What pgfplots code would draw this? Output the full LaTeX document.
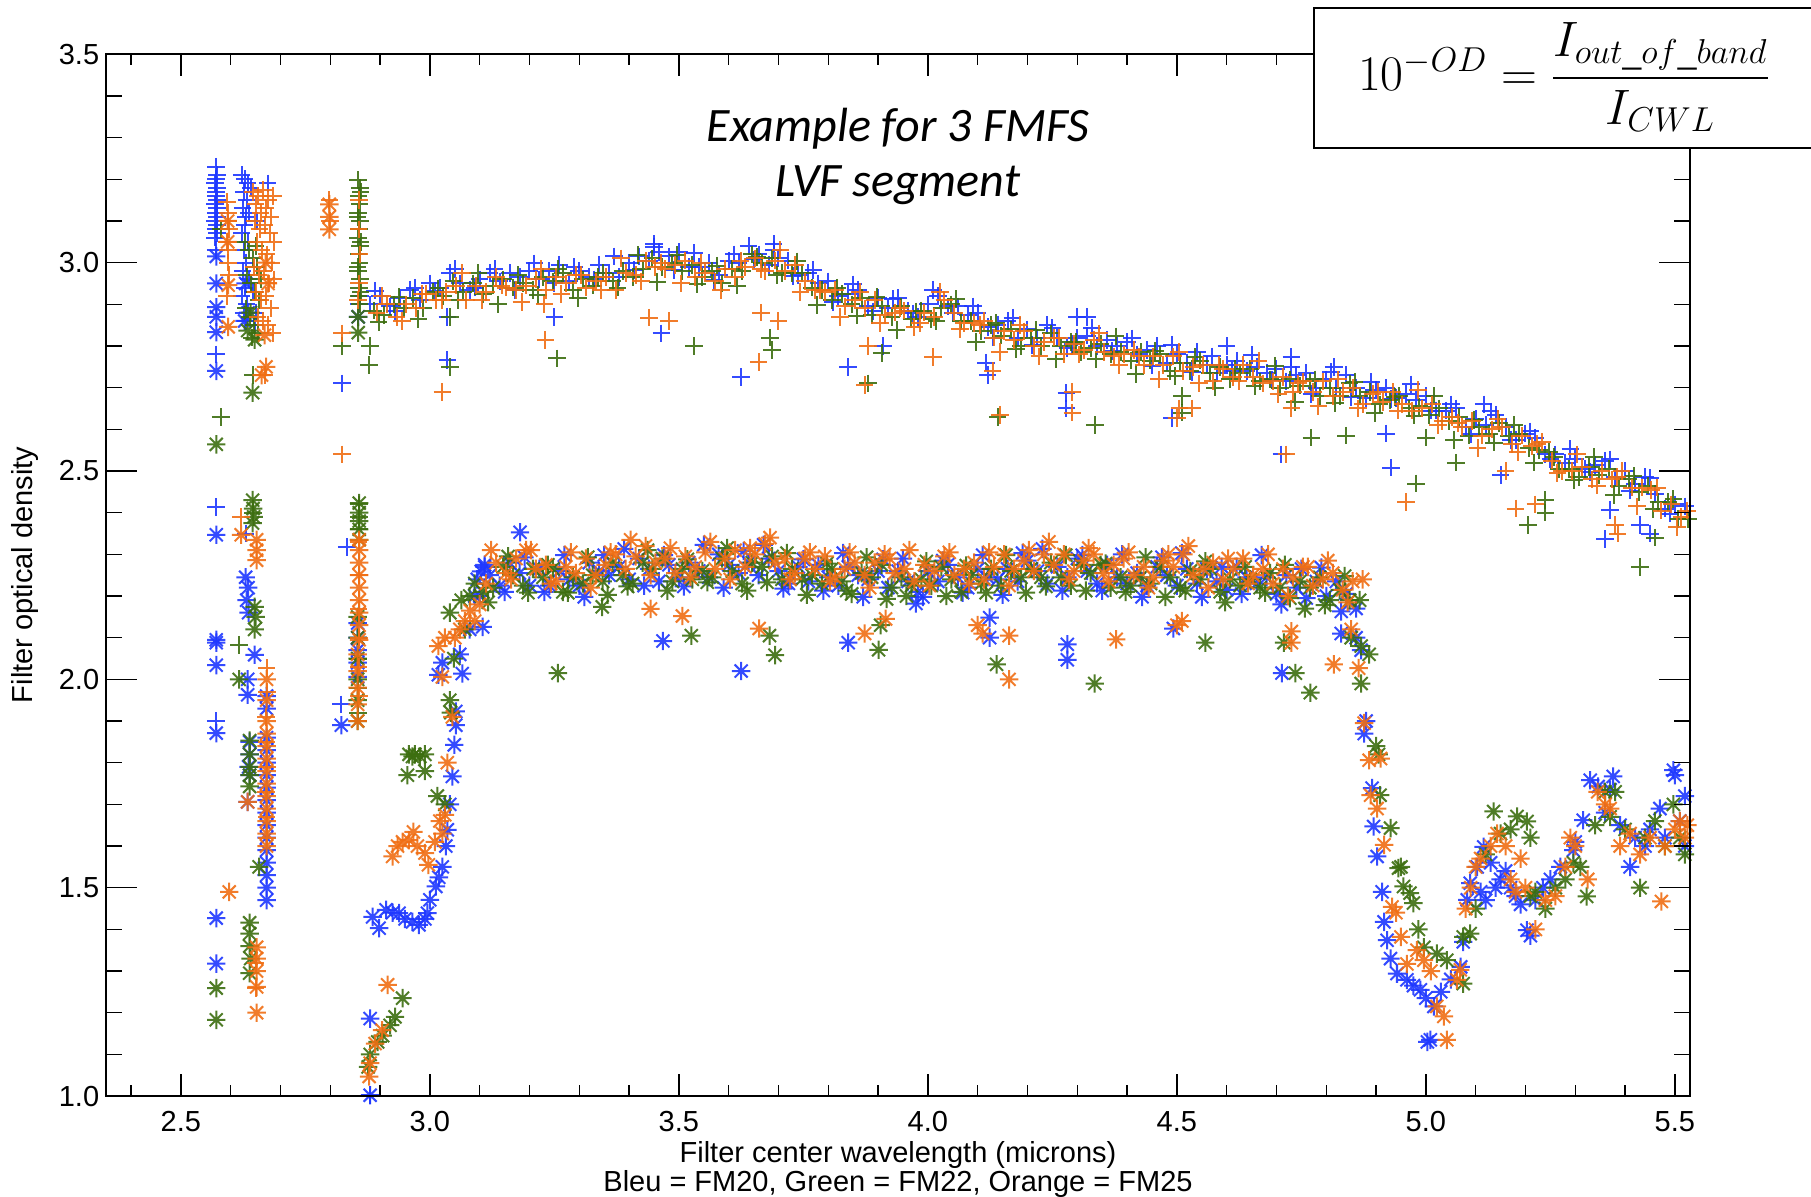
\documentclass[border=0pt]{standalone}
\usepackage{amsmath}
\usepackage{pgfplots}
\pgfplotsset{compat=1.18}
\usepackage{fontspec}
\setmainfont{Liberation Sans}
\newfontfamily\calibri{Carlito}
\definecolor{fmblue}{RGB}{30,55,255}
\definecolor{fmgreen}{RGB}{60,110,15}
\definecolor{fmorange}{RGB}{240,110,20}
\pgfdeclareplotmark{ast8}{%
  \pgfpathmoveto{\pgfqpoint{-\pgfplotmarksize}{0pt}}\pgfpathlineto{\pgfqpoint{\pgfplotmarksize}{0pt}}%
  \pgfpathmoveto{\pgfqpoint{0pt}{-\pgfplotmarksize}}\pgfpathlineto{\pgfqpoint{0pt}{\pgfplotmarksize}}%
  \pgfpathmoveto{\pgfqpoint{-0.7071\pgfplotmarksize}{-0.7071\pgfplotmarksize}}\pgfpathlineto{\pgfqpoint{0.7071\pgfplotmarksize}{0.7071\pgfplotmarksize}}%
  \pgfpathmoveto{\pgfqpoint{-0.7071\pgfplotmarksize}{0.7071\pgfplotmarksize}}\pgfpathlineto{\pgfqpoint{0.7071\pgfplotmarksize}{-0.7071\pgfplotmarksize}}%
  \pgfusepathqstroke}
\pgfplotsset{
  pl/.style={only marks, mark=+, mark size=4.4pt, line width=1pt, opacity=0.9},
  as/.style={only marks, mark=ast8, mark size=4.6pt, line width=1pt, opacity=0.9},
}
\begin{document}
\begin{tikzpicture}[x=1pt,y=1pt]
\begin{axis}[
  at={(53.1pt,50.45pt)}, anchor=south west, scale only axis,
  width=791.8pt, height=520.9pt,
  xmin=2.35, xmax=5.53, ymin=1.0, ymax=3.5,
  xtick={2.5,3.0,3.5,4.0,4.5,5.0,5.5},
  minor xtick={2.4,2.6,2.7,2.8,2.9,3.1,3.2,3.3,3.4,3.6,3.7,3.8,3.9,4.1,4.2,4.3,4.4,4.6,4.7,4.8,4.9,5.1,5.2,5.3,5.4},
  ytick=\empty,
  tick pos=both, tick align=inside,
  major tick length=11pt, minor tick length=5.5pt,
  tick style={black, line width=0.7pt},
  axis line style={line width=0.8pt},
  xticklabel style={font=\fontsize{14.5}{17}\selectfont, yshift=-4pt,
    /pgf/number format/fixed, /pgf/number format/fixed zerofill,
    /pgf/number format/precision=1, /pgf/number format/assume math mode=true},
]
% ---------- FM20 blue, + ----------
\addplot[pl, color=fmblue] coordinates {
(2.88,2.900)(2.90,2.920)(2.92,2.895)(2.94,2.915)(2.96,2.935)(2.98,2.910)(3.00,2.950)(3.02,2.940)(3.04,2.975)(3.06,2.950)(3.08,2.935)(3.10,2.960)(3.12,2.975)(3.14,2.955)(3.16,2.975)(3.18,2.965)(3.20,2.980)(3.22,2.960)(3.24,2.980)(3.26,2.995)(3.28,2.955)(3.30,2.980)(3.32,2.965)(3.34,2.995)(3.36,2.975)(3.38,2.965)(3.40,3.000)(3.42,3.015)(3.44,3.005)(3.46,3.025)(3.48,3.015)(3.50,3.025)(3.52,2.990)(3.54,2.990)(3.56,3.000)(3.58,2.970)(3.60,3.005)(3.62,3.000)(3.64,3.040)(3.66,3.020)(3.68,2.995)(3.70,3.010)(3.72,3.005)(3.74,2.970)(3.76,2.975)(3.78,2.950)(3.80,2.955)(3.82,2.920)(3.84,2.925)(3.86,2.935)(3.88,2.895)(3.90,2.915)(3.92,2.890)(3.94,2.915)(3.96,2.885)(3.98,2.870)(4.00,2.900)(4.02,2.920)(4.04,2.895)(4.06,2.895)(4.08,2.875)(4.10,2.880)(4.12,2.845)(4.14,2.850)(4.16,2.860)(4.18,2.820)(4.20,2.840)(4.22,2.820)(4.24,2.850)(4.26,2.820)(4.28,2.795)(4.30,2.820)(4.32,2.825)(4.34,2.800)(4.36,2.815)(4.38,2.800)(4.40,2.810)(4.42,2.780)(4.44,2.790)(4.46,2.800)(4.48,2.760)(4.50,2.780)(4.52,2.760)(4.54,2.785)(4.56,2.755)(4.58,2.735)(4.60,2.755)(4.62,2.765)(4.64,2.740)(4.66,2.750)(4.68,2.735)(4.70,2.745)(4.72,2.715)(4.74,2.730)(4.76,2.735)(4.78,2.700)(4.80,2.720)(4.82,2.700)(4.84,2.730)(4.86,2.700)(4.88,2.675)(4.90,2.695)(4.92,2.700)(4.94,2.675)(4.96,2.685)(4.98,2.670)(5.00,2.680)(5.02,2.645)(5.04,2.645)(5.06,2.650)(5.08,2.605)(5.10,2.625)(5.12,2.610)(5.14,2.635)(5.16,2.605)(5.18,2.575)(5.20,2.590)(5.22,2.580)(5.24,2.540)(5.26,2.540)(5.28,2.520)(5.30,2.530)(5.32,2.505)(5.34,2.515)(5.36,2.525)(5.38,2.485)(5.40,2.500)(5.42,2.470)(5.44,2.485)(5.46,2.445)(5.48,2.410)(5.50,2.420)(5.52,2.415)
(2.89,2.933)(2.93,2.883)(2.97,2.940)(3.01,2.933)(3.05,2.985)(3.09,2.940)(3.13,2.985)(3.17,2.935)(3.21,2.998)(3.25,2.950)(3.29,2.990)(3.33,2.960)(3.37,3.015)(3.41,2.983)(3.45,3.038)(3.49,2.983)(3.53,3.023)(3.57,2.958)(3.61,3.020)(3.65,3.008)(3.69,3.045)(3.73,2.968)(3.77,2.983)(3.81,2.905)(3.85,2.948)(3.89,2.883)(3.93,2.913)(3.97,2.878)(4.01,2.935)(4.05,2.878)(4.09,2.895)(4.13,2.820)(4.17,2.868)(4.21,2.803)(4.25,2.843)(4.29,2.805)(4.33,2.843)(4.37,2.788)(4.41,2.818)(4.45,2.753)(4.49,2.803)(4.53,2.738)(4.57,2.775)(4.61,2.740)(4.65,2.778)(4.69,2.718)(4.73,2.750)(4.77,2.685)(4.81,2.738)(4.85,2.678)(4.89,2.713)(4.93,2.673)(4.97,2.708)(5.01,2.645)(5.05,2.660)(5.09,2.588)(5.13,2.643)(5.17,2.575)(5.21,2.595)(5.25,2.528)(5.29,2.553)(5.33,2.498)(5.37,2.528)(5.41,2.453)(5.45,2.483)(5.49,2.398)
(2.569,3.06)(2.573,3.07)(2.570,3.08)(2.572,3.09)(2.568,3.10)(2.573,3.11)(2.570,3.12)(2.572,3.13)(2.569,3.14)(2.573,3.15)(2.571,3.16)(2.570,3.17)(2.572,3.18)(2.569,3.19)(2.571,3.20)(2.573,3.21)(2.571,3.23)(2.570,3.03)(2.570,2.78)(2.571,2.414)(2.570,1.90)
(2.622,3.21)(2.628,3.20)(2.634,3.19)(2.640,3.18)(2.626,3.17)(2.632,3.15)(2.624,3.13)(2.630,3.11)(2.636,3.12)(2.628,3.09)(2.622,3.07)(2.634,3.05)(2.626,3.03)(2.630,3.00)(2.624,2.98)(2.636,2.96)(2.628,2.94)(2.622,2.92)(2.632,2.90)(2.626,2.88)(2.630,2.86)(2.648,2.85)(2.650,2.88)(2.652,3.10)(2.674,3.19)(2.645,2.93)
(2.857,2.90)(2.86,2.92)
(2.824,2.71)(3.035,2.87)(3.035,2.766)(3.25,2.87)(3.465,2.83)(3.625,2.726)(3.84,2.75)(3.91,2.80)(4.117,2.76)(4.12,2.73)(4.278,2.687)(4.278,2.65)(4.49,2.627)(4.71,2.54)(4.92,2.59)(4.93,2.508)(5.15,2.49)(5.37,2.406)(5.36,2.337)(5.43,2.37)(5.45,2.35)(3.45,3.045)(3.69,3.03)(4.30,2.87)(4.32,2.87)(4.60,2.80)(4.73,2.774)(4.815,2.75)(5.116,2.66)(2.63,2.35)(2.833,2.318)(2.822,1.94)(2.88,1.002)
};
% ---------- FM20 blue, asterisk ----------
\addplot[as, color=fmblue] coordinates {
(3.10,2.200)(3.12,2.250)(3.14,2.225)(3.16,2.280)(3.18,2.255)(3.20,2.225)(3.22,2.265)(3.24,2.225)(3.26,2.260)(3.28,2.240)(3.30,2.225)(3.32,2.280)(3.34,2.260)(3.36,2.250)(3.38,2.270)(3.40,2.240)(3.42,2.290)(3.44,2.265)(3.46,2.235)(3.48,2.275)(3.50,2.245)(3.52,2.280)(3.54,2.260)(3.56,2.245)(3.58,2.300)(3.60,2.275)(3.62,2.255)(3.64,2.280)(3.66,2.250)(3.68,2.290)(3.70,2.260)(3.72,2.230)(3.74,2.270)(3.76,2.235)(3.78,2.275)(3.80,2.245)(3.82,2.225)(3.84,2.270)(3.86,2.250)(3.88,2.240)(3.90,2.260)(3.92,2.220)(3.94,2.260)(3.96,2.235)(3.98,2.210)(4.00,2.260)(4.02,2.235)(4.04,2.275)(4.06,2.245)(4.08,2.220)(4.10,2.265)(4.12,2.245)(4.14,2.240)(4.16,2.265)(4.18,2.235)(4.20,2.285)(4.22,2.260)(4.24,2.230)(4.26,2.270)(4.28,2.245)(4.30,2.290)(4.32,2.260)(4.34,2.230)(4.36,2.275)(4.38,2.245)(4.40,2.230)(4.42,2.255)(4.44,2.225)(4.46,2.270)(4.48,2.250)(4.50,2.225)(4.52,2.265)(4.54,2.230)(4.56,2.265)(4.58,2.235)(4.60,2.215)(4.62,2.270)(4.64,2.245)(4.66,2.230)(4.68,2.245)(4.70,2.205)(4.72,2.250)(4.74,2.220)(4.76,2.195)(4.78,2.235)(4.80,2.200)(4.82,2.235)(4.84,2.205)(4.86,2.170)
(3.11,2.275)(3.15,2.210)(3.19,2.293)(3.23,2.210)(3.27,2.298)(3.31,2.198)(3.35,2.298)(3.39,2.313)(3.43,2.225)(3.47,2.298)(3.51,2.223)(3.55,2.323)(3.59,2.220)(3.63,2.308)(3.67,2.323)(3.71,2.218)(3.75,2.288)(3.79,2.213)(3.83,2.303)(3.87,2.198)(3.91,2.288)(3.95,2.290)(3.99,2.198)(4.03,2.285)(4.07,2.208)(4.11,2.298)(4.15,2.203)(4.19,2.303)(4.23,2.313)(4.27,2.213)(4.31,2.298)(4.35,2.213)(4.39,2.300)(4.43,2.198)(4.47,2.293)(4.51,2.303)(4.55,2.198)(4.59,2.270)(4.63,2.205)(4.67,2.298)(4.71,2.180)(4.75,2.265)(4.79,2.268)(4.83,2.163)
(2.571,3.015)(2.571,2.95)(2.571,2.893)(2.571,2.87)(2.571,2.833)(2.571,2.74)(2.571,2.347)(2.571,2.095)(2.571,2.088)(2.571,2.034)(2.571,1.871)(2.571,1.427)(2.571,1.318)
(2.63,2.95)(2.635,2.88)(2.628,2.86)
(2.63,2.245)(2.635,2.22)(2.632,2.19)(2.636,2.16)(2.648,2.059)(2.634,2.0)(2.634,1.963)(2.638,1.85)(2.638,1.82)(2.636,1.79)(2.638,1.77)(2.634,1.706)
(2.672,1.96)(2.672,1.93)(2.672,1.86)(2.672,1.83)(2.672,1.80)(2.672,1.77)(2.672,1.74)(2.672,1.71)(2.672,1.68)(2.672,1.65)(2.672,1.62)(2.672,1.59)(2.672,1.56)(2.672,1.53)(2.672,1.50)(2.672,1.47)
(2.855,2.135)(2.855,2.10)(2.855,2.07)(2.855,2.04)(2.855,2.006)(2.856,2.87)(2.822,1.89)
(2.88,1.186)(2.88,1.002)(2.885,1.43)(2.898,1.403)(2.912,1.447)(2.925,1.44)(2.938,1.439)(2.95,1.425)(2.965,1.418)(2.978,1.411)(2.99,1.425)(2.995,1.439)(3.00,1.471)(3.012,1.503)(3.018,1.525)(3.025,1.55)(3.032,1.60)(3.035,1.639)(3.04,1.70)(3.045,1.767)(3.049,1.843)(3.052,1.89)(3.052,1.923)(3.065,2.014)(3.017,2.011)(3.025,2.04)(3.06,2.06)(3.08,2.12)(3.106,2.126)(3.103,2.259)(3.181,2.353)(3.09,2.20)(3.095,2.24)(3.11,2.27)
(3.468,2.092)(3.625,2.02)(3.84,2.088)(3.976,2.182)(4.124,2.148)(4.124,2.10)(4.28,2.084)(4.28,2.047)(4.493,2.122)(4.711,2.015)(4.83,2.11)
(4.86,2.10)(4.87,2.07)(4.876,1.87)(4.88,1.90)(4.892,1.739)(4.895,1.647)(4.902,1.575)(4.912,1.49)(4.916,1.418)(4.922,1.374)(4.929,1.33)(4.942,1.294)(4.962,1.279)(4.975,1.265)(4.989,1.255)(5.00,1.235)(5.016,1.215)(5.009,1.135)(5.003,1.13)(5.03,1.25)(5.05,1.28)(5.07,1.31)(5.075,1.37)(5.083,1.471)(5.089,1.511)(5.103,1.55)(5.116,1.598)(5.13,1.56)(5.14,1.50)(5.15,1.52)(5.16,1.54)(5.17,1.50)(5.18,1.48)(5.19,1.46)(5.203,1.398)(5.21,1.385)(5.22,1.47)(5.235,1.50)(5.25,1.52)(5.27,1.55)(5.296,1.59)(5.30,1.61)(5.316,1.662)(5.33,1.758)(5.346,1.743)(5.36,1.68)(5.376,1.767)(5.37,1.735)(5.39,1.65)(5.41,1.55)(5.42,1.62)(5.44,1.60)(5.45,1.64)(5.47,1.69)(5.48,1.62)(5.497,1.782)(5.50,1.77)(5.51,1.66)(5.52,1.72)(5.52,1.60)(5.11,1.49)(5.12,1.47)
};
% ---------- FM22 green, + ----------
\addplot[pl, color=fmgreen] coordinates {
(2.887,2.885)(2.907,2.875)(2.927,2.900)(2.947,2.890)(2.967,2.915)(2.987,2.890)(3.007,2.930)(3.027,2.920)(3.047,2.955)(3.067,2.930)(3.087,2.950)(3.107,2.925)(3.127,2.945)(3.147,2.960)(3.167,2.940)(3.187,2.950)(3.207,2.935)(3.227,2.965)(3.247,2.955)(3.267,2.975)(3.287,2.935)(3.307,2.960)(3.327,2.945)(3.347,2.975)(3.367,2.955)(3.387,2.980)(3.407,2.965)(3.427,2.985)(3.447,3.010)(3.467,2.990)(3.487,3.000)(3.507,2.980)(3.527,2.995)(3.547,2.965)(3.567,2.980)(3.587,2.950)(3.607,2.985)(3.627,2.980)(3.647,3.020)(3.667,3.000)(3.687,3.010)(3.707,2.975)(3.727,2.975)(3.747,2.975)(3.767,2.940)(3.787,2.935)(3.807,2.910)(3.827,2.925)(3.847,2.900)(3.867,2.915)(3.887,2.875)(3.907,2.895)(3.927,2.870)(3.947,2.895)(3.967,2.865)(3.987,2.885)(4.007,2.865)(4.027,2.890)(4.047,2.900)(4.067,2.860)(4.087,2.860)(4.107,2.835)(4.127,2.850)(4.147,2.825)(4.167,2.840)(4.187,2.800)(4.207,2.820)(4.227,2.800)(4.247,2.830)(4.267,2.800)(4.287,2.810)(4.307,2.785)(4.327,2.795)(4.347,2.805)(4.367,2.780)(4.387,2.785)(4.407,2.765)(4.427,2.785)(4.447,2.765)(4.467,2.780)(4.487,2.740)(4.507,2.760)(4.527,2.740)(4.547,2.765)(4.567,2.735)(4.587,2.750)(4.607,2.720)(4.627,2.735)(4.647,2.745)(4.667,2.715)(4.687,2.720)(4.707,2.700)(4.727,2.720)(4.747,2.705)(4.767,2.715)(4.787,2.680)(4.807,2.700)(4.827,2.680)(4.847,2.710)(4.867,2.680)(4.887,2.690)(4.907,2.660)(4.927,2.670)(4.947,2.680)(4.967,2.650)(4.987,2.655)(5.007,2.635)(5.027,2.650)(5.047,2.620)(5.067,2.630)(5.087,2.585)(5.107,2.605)(5.127,2.590)(5.147,2.615)(5.167,2.585)(5.187,2.590)(5.207,2.555)(5.227,2.550)(5.247,2.545)(5.267,2.505)(5.287,2.505)(5.307,2.485)(5.327,2.510)(5.347,2.490)(5.367,2.505)(5.387,2.465)(5.407,2.480)(5.427,2.450)(5.447,2.465)(5.467,2.425)(5.487,2.425)(5.507,2.385)(5.527,2.385)
(2.897,2.858)(2.937,2.918)(2.977,2.865)(3.017,2.938)(3.057,2.910)(3.097,2.975)(3.137,2.900)(3.177,2.970)(3.217,2.923)(3.257,2.985)(3.297,2.915)(3.337,2.965)(3.377,2.940)(3.417,3.018)(3.457,2.953)(3.497,3.018)(3.537,2.948)(3.577,2.993)(3.617,2.945)(3.657,3.013)(3.697,2.970)(3.737,3.003)(3.777,2.898)(3.817,2.940)(3.857,2.873)(3.897,2.918)(3.937,2.838)(3.977,2.883)(4.017,2.860)(4.057,2.913)(4.097,2.810)(4.137,2.855)(4.177,2.793)(4.217,2.838)(4.257,2.768)(4.297,2.810)(4.337,2.768)(4.377,2.823)(4.417,2.733)(4.457,2.788)(4.497,2.728)(4.537,2.773)(4.577,2.700)(4.617,2.745)(4.657,2.703)(4.697,2.753)(4.737,2.665)(4.777,2.720)(4.817,2.663)(4.857,2.713)(4.897,2.638)(4.937,2.678)(4.977,2.633)(5.017,2.680)(5.057,2.575)(5.097,2.623)(5.137,2.568)(5.177,2.610)(5.217,2.520)(5.257,2.533)(5.297,2.478)(5.337,2.533)(5.377,2.443)(5.417,2.488)(5.457,2.408)(5.497,2.433)
(2.58,3.08)(2.58,2.63)
(2.628,3.05)(2.636,3.03)(2.644,3.01)(2.652,2.99)(2.632,2.97)(2.640,2.95)(2.648,2.93)(2.656,2.91)(2.630,2.89)(2.638,2.87)(2.646,2.85)(2.654,2.83)(2.642,2.82)(2.660,2.96)(2.650,3.04)
(2.856,3.198)(2.860,3.18)(2.857,3.16)(2.859,3.14)(2.856,3.12)(2.860,3.10)(2.858,3.08)(2.856,3.06)(2.860,3.04)(2.857,3.02)(2.859,3.00)(2.856,2.98)(2.860,2.96)(2.858,2.94)(2.857,2.92)(2.859,2.90)(2.861,3.17)(2.855,3.11)(2.861,3.05)(2.855,2.99)(2.861,2.93)
(2.858,2.42)(2.858,2.39)(2.858,2.36)(2.856,2.05)(2.856,1.98)(2.856,1.92)
(2.824,2.80)(2.878,2.755)(2.88,2.80)(3.04,2.87)(3.04,2.75)(3.255,2.77)(3.53,2.80)(3.683,2.82)(3.687,2.79)(3.88,2.71)(3.907,2.783)(4.14,2.63)(4.335,2.61)(4.51,2.64)(4.51,2.68)(4.77,2.58)(4.84,2.585)(4.98,2.47)(5.06,2.52)(5.0,2.58)(5.205,2.37)(5.24,2.40)(5.24,2.43)(5.43,2.27)(5.46,2.34)(2.644,2.73)(2.617,2.083)(2.645,2.40)
};
% ---------- FM22 green, asterisk ----------
\addplot[as, color=fmgreen] coordinates {
(3.107,2.210)(3.127,2.220)(3.147,2.270)(3.167,2.250)(3.187,2.225)(3.207,2.265)(3.227,2.245)(3.247,2.265)(3.267,2.210)(3.287,2.245)(3.307,2.230)(3.327,2.250)(3.347,2.235)(3.367,2.280)(3.387,2.250)(3.407,2.230)(3.427,2.280)(3.447,2.265)(3.467,2.290)(3.487,2.235)(3.507,2.265)(3.527,2.240)(3.547,2.260)(3.567,2.245)(3.587,2.290)(3.607,2.260)(3.627,2.230)(3.647,2.280)(3.667,2.270)(3.687,2.295)(3.707,2.240)(3.727,2.265)(3.747,2.240)(3.767,2.250)(3.787,2.230)(3.807,2.265)(3.827,2.235)(3.847,2.205)(3.867,2.255)(3.887,2.245)(3.907,2.275)(3.927,2.220)(3.947,2.245)(3.967,2.225)(3.987,2.240)(4.007,2.225)(4.027,2.270)(4.047,2.240)(4.067,2.210)(4.087,2.250)(4.107,2.230)(4.127,2.265)(4.147,2.225)(4.167,2.260)(4.187,2.245)(4.207,2.265)(4.227,2.245)(4.247,2.280)(4.267,2.245)(4.287,2.225)(4.307,2.275)(4.327,2.255)(4.347,2.275)(4.367,2.220)(4.387,2.245)(4.407,2.225)(4.427,2.245)(4.447,2.230)(4.467,2.270)(4.487,2.245)(4.507,2.220)(4.527,2.260)(4.547,2.240)(4.567,2.265)(4.587,2.210)(4.607,2.240)(4.627,2.225)(4.647,2.240)(4.667,2.220)(4.687,2.255)(4.707,2.220)(4.727,2.195)(4.747,2.235)(4.767,2.220)(4.787,2.245)(4.807,2.190)(4.827,2.215)(4.847,2.190)(4.867,2.190)
(3.117,2.185)(3.157,2.295)(3.197,2.208)(3.237,2.275)(3.277,2.208)(3.317,2.293)(3.357,2.203)(3.397,2.223)(3.437,2.310)(3.477,2.213)(3.517,2.288)(3.557,2.233)(3.597,2.315)(3.637,2.213)(3.677,2.233)(3.717,2.303)(3.757,2.203)(3.797,2.278)(3.837,2.213)(3.877,2.293)(3.917,2.193)(3.957,2.200)(3.997,2.283)(4.037,2.200)(4.077,2.273)(4.117,2.208)(4.157,2.298)(4.197,2.208)(4.237,2.223)(4.277,2.298)(4.317,2.213)(4.357,2.278)(4.397,2.210)(4.437,2.293)(4.477,2.198)(4.517,2.213)(4.557,2.283)(4.597,2.185)(4.637,2.270)(4.677,2.208)(4.717,2.275)(4.757,2.170)(4.797,2.178)(4.837,2.248)
(2.571,2.564)(2.571,1.259)(2.571,1.183)
(2.634,2.837)(2.648,2.815)(2.644,2.688)(2.64,2.88)
(2.644,2.43)(2.645,2.41)(2.646,2.39)(2.644,2.375)(2.648,2.174)(2.65,2.15)(2.648,2.12)(2.617,2.0)(2.638,1.853)(2.638,1.82)(2.638,1.79)(2.638,1.77)(2.638,1.743)(2.657,1.55)(2.638,1.416)(2.638,1.39)(2.638,1.36)(2.64,1.33)(2.638,1.295)
(2.858,2.423)(2.858,2.40)(2.858,2.38)(2.858,2.36)(2.858,2.335)(2.856,2.832)(2.856,2.87)(2.855,2.15)(2.855,2.10)(2.855,2.05)(2.855,2.00)(2.855,1.95)(2.855,1.90)
(2.876,1.07)(2.88,1.10)(2.895,1.13)(2.905,1.145)(2.92,1.17)(2.93,1.19)(2.945,1.235)(2.955,1.77)(2.958,1.82)(2.965,1.815)(2.97,1.82)(2.98,1.815)(2.99,1.78)(2.99,1.82)(3.015,1.72)(3.03,1.70)(3.04,1.95)(3.042,1.92)(3.048,2.05)(3.063,2.19)(3.04,2.16)(3.07,2.12)(3.08,2.20)(3.09,2.23)
(3.257,2.015)(3.346,2.174)(3.525,2.105)(3.682,2.105)(3.693,2.058)(3.901,2.071)(3.905,2.13)(4.138,2.036)(4.335,1.99)(4.557,2.088)(4.715,2.088)(4.738,2.015)(4.768,1.968)
(4.85,2.10)(4.87,2.08)(4.886,2.06)(4.87,1.99)(4.90,1.84)(4.905,1.82)(4.908,1.722)(4.929,1.643)(4.945,1.547)(4.95,1.55)(4.955,1.503)(4.968,1.487)(4.975,1.463)(4.985,1.40)(4.996,1.357)(5.022,1.342)(5.042,1.326)(5.075,1.382)(5.089,1.39)(5.075,1.27)(5.10,1.45)(5.12,1.58)(5.136,1.683)(5.15,1.63)(5.17,1.64)(5.183,1.671)(5.203,1.659)(5.21,1.62)(5.21,1.48)(5.22,1.49)(5.24,1.45)(5.26,1.50)(5.28,1.52)(5.296,1.56)(5.31,1.55)(5.323,1.479)(5.34,1.65)(5.36,1.73)(5.38,1.73)(5.37,1.67)(5.40,1.64)(5.43,1.50)(5.44,1.62)(5.46,1.66)(5.48,1.60)(5.497,1.70)(5.51,1.62)(5.52,1.58)
};
% ---------- FM25 orange, + ----------
\addplot[pl, color=fmorange] coordinates {
(2.893,2.880)(2.913,2.900)(2.933,2.870)(2.953,2.900)(2.973,2.890)(2.993,2.925)(3.013,2.910)(3.033,2.930)(3.053,2.945)(3.073,2.910)(3.093,2.945)(3.113,2.930)(3.133,2.965)(3.153,2.940)(3.173,2.935)(3.193,2.945)(3.213,2.960)(3.233,2.935)(3.253,2.965)(3.273,2.950)(3.293,2.970)(3.313,2.940)(3.333,2.955)(3.353,2.965)(3.373,2.935)(3.393,2.975)(3.413,2.970)(3.433,3.005)(3.453,2.990)(3.473,2.985)(3.493,2.995)(3.513,3.005)(3.533,2.965)(3.553,2.975)(3.573,2.955)(3.593,2.985)(3.613,2.965)(3.633,2.990)(3.653,3.010)(3.673,2.980)(3.693,3.005)(3.713,2.980)(3.733,2.995)(3.753,2.955)(3.773,2.935)(3.793,2.930)(3.813,2.935)(3.833,2.895)(3.853,2.910)(3.873,2.890)(3.893,2.910)(3.913,2.875)(3.933,2.880)(3.953,2.885)(3.973,2.845)(3.993,2.880)(4.013,2.870)(4.033,2.910)(4.053,2.880)(4.073,2.855)(4.093,2.855)(4.113,2.860)(4.133,2.820)(4.153,2.835)(4.173,2.815)(4.193,2.835)(4.213,2.800)(4.233,2.810)(4.253,2.820)(4.273,2.780)(4.293,2.805)(4.313,2.790)(4.333,2.815)(4.353,2.785)(4.373,2.775)(4.393,2.780)(4.413,2.790)(4.433,2.755)(4.453,2.775)(4.473,2.755)(4.493,2.775)(4.513,2.740)(4.533,2.750)(4.553,2.755)(4.573,2.715)(4.593,2.745)(4.613,2.725)(4.633,2.755)(4.653,2.725)(4.673,2.710)(4.693,2.715)(4.713,2.725)(4.733,2.690)(4.753,2.715)(4.773,2.690)(4.793,2.715)(4.813,2.680)(4.833,2.690)(4.853,2.700)(4.873,2.660)(4.893,2.685)(4.913,2.665)(4.933,2.690)(4.953,2.660)(4.973,2.645)(4.993,2.650)(5.013,2.660)(5.033,2.620)(5.053,2.630)(5.073,2.605)(5.093,2.620)(5.113,2.585)(5.133,2.600)(5.153,2.605)(5.173,2.565)(5.193,2.585)(5.213,2.560)(5.233,2.570)(5.253,2.525)(5.273,2.500)(5.293,2.500)(5.313,2.510)(5.333,2.480)(5.353,2.500)(5.373,2.480)(5.393,2.500)(5.413,2.460)(5.433,2.460)(5.453,2.455)(5.473,2.405)(5.493,2.420)(5.513,2.390)(5.525,2.405)
(2.904,2.920)(2.944,2.860)(2.984,2.925)(3.024,2.910)(3.064,2.975)(3.104,2.910)(3.144,2.945)(3.184,2.905)(3.224,2.985)(3.264,2.925)(3.304,2.970)(3.344,2.935)(3.384,3.010)(3.424,2.955)(3.464,3.000)(3.504,2.950)(3.544,3.000)(3.584,2.935)(3.624,3.005)(3.664,2.985)(3.704,3.030)(3.744,2.930)(3.784,2.935)(3.824,2.870)(3.864,2.930)(3.904,2.855)(3.944,2.890)(3.984,2.855)(4.024,2.930)(4.064,2.840)(4.104,2.850)(4.144,2.785)(4.184,2.850)(4.224,2.775)(4.264,2.820)(4.304,2.780)(4.344,2.830)(4.384,2.755)(4.424,2.775)(4.464,2.720)(4.504,2.785)(4.544,2.710)(4.584,2.755)(4.624,2.715)(4.664,2.765)(4.704,2.685)(4.744,2.710)(4.784,2.655)(4.824,2.720)(4.864,2.650)(4.904,2.690)(4.944,2.645)(4.984,2.695)(5.024,2.610)(5.064,2.615)(5.104,2.555)(5.144,2.625)(5.184,2.545)(5.224,2.565)(5.264,2.495)(5.304,2.540)(5.344,2.465)(5.384,2.485)(5.424,2.415)(5.464,2.460)(5.504,2.365)
(2.593,3.145)(2.595,3.12)(2.594,3.10)(2.596,3.08)(2.593,3.05)(2.595,3.03)(2.594,3.00)(2.596,2.97)(2.592,2.92)
(2.645,3.17)(2.655,3.16)(2.665,3.175)(2.675,3.15)(2.685,3.16)(2.650,3.14)(2.660,3.12)(2.670,3.13)(2.680,3.11)(2.648,3.10)(2.658,3.08)(2.668,3.09)(2.678,3.07)(2.686,3.05)(2.652,3.05)(2.662,3.03)(2.672,3.02)(2.682,3.00)(2.646,2.99)(2.656,2.97)(2.666,2.98)(2.676,2.95)(2.686,2.96)(2.650,2.93)(2.660,2.91)(2.670,2.92)(2.680,2.89)(2.654,2.87)(2.664,2.86)(2.674,2.85)(2.684,2.83)(2.668,2.73)
(2.798,3.15)(2.80,3.10)
(2.858,3.15)(2.857,3.08)(2.859,3.02)(2.858,2.95)(2.856,2.91)
(2.672,2.027)(2.673,1.97)(2.671,1.91)(2.672,1.85)(2.673,1.79)(2.671,1.73)(2.672,1.67)(2.673,1.62)(2.857,2.33)(2.858,2.25)(2.857,2.17)(2.858,2.10)(2.857,2.03)(2.858,1.96)
(2.621,2.39)(2.65,1.32)(2.65,1.26)
(2.824,2.83)(3.025,2.69)(3.232,2.815)(3.23,2.90)(3.44,2.868)(3.48,2.86)(3.66,2.762)(3.665,2.88)(3.70,2.86)(3.873,2.707)(3.88,2.80)(4.01,2.774)(4.13,2.74)(4.145,2.635)(4.29,2.69)(4.29,2.64)(4.50,2.627)(4.505,2.65)(4.53,2.65)(4.72,2.54)(4.73,2.65)(4.96,2.426)(5.16,2.50)(5.18,2.41)(5.22,2.42)(5.38,2.37)(5.385,2.35)(2.824,2.54)
};
% ---------- FM25 orange, asterisk ----------
\addplot[as, color=fmorange] coordinates {
(3.113,2.230)(3.133,2.280)(3.153,2.255)(3.173,2.290)(3.193,2.310)(3.213,2.265)(3.233,2.275)(3.253,2.235)(3.273,2.270)(3.293,2.255)(3.313,2.290)(3.333,2.250)(3.353,2.275)(3.373,2.300)(3.393,2.265)(3.413,2.295)(3.433,2.320)(3.453,2.280)(3.473,2.290)(3.493,2.255)(3.513,2.295)(3.533,2.270)(3.553,2.305)(3.573,2.265)(3.593,2.290)(3.613,2.310)(3.633,2.270)(3.653,2.300)(3.673,2.325)(3.693,2.280)(3.713,2.290)(3.733,2.255)(3.753,2.290)(3.773,2.265)(3.793,2.295)(3.813,2.245)(3.833,2.265)(3.853,2.280)(3.873,2.250)(3.893,2.280)(3.913,2.300)(3.933,2.255)(3.953,2.265)(3.973,2.235)(3.993,2.275)(4.013,2.260)(4.033,2.295)(4.053,2.250)(4.073,2.265)(4.093,2.280)(4.113,2.240)(4.133,2.270)(4.153,2.300)(4.173,2.265)(4.193,2.285)(4.213,2.260)(4.233,2.300)(4.253,2.275)(4.273,2.300)(4.293,2.260)(4.313,2.285)(4.333,2.300)(4.353,2.255)(4.373,2.275)(4.393,2.290)(4.413,2.250)(4.433,2.270)(4.453,2.245)(4.473,2.285)(4.493,2.270)(4.513,2.300)(4.533,2.250)(4.553,2.265)(4.573,2.280)(4.593,2.240)(4.613,2.265)(4.633,2.290)(4.653,2.250)(4.673,2.265)(4.693,2.230)(4.713,2.265)(4.733,2.245)(4.753,2.270)(4.773,2.225)(4.793,2.240)(4.813,2.255)(4.833,2.215)(4.853,2.235)(4.873,2.240)
(3.123,2.310)(3.163,2.240)(3.203,2.310)(3.243,2.230)(3.283,2.305)(3.323,2.220)(3.363,2.305)(3.403,2.335)(3.443,2.250)(3.483,2.315)(3.523,2.245)(3.563,2.330)(3.603,2.240)(3.643,2.315)(3.683,2.340)(3.723,2.240)(3.763,2.305)(3.803,2.235)(3.843,2.305)(3.883,2.220)(3.923,2.290)(3.963,2.310)(4.003,2.225)(4.043,2.305)(4.083,2.230)(4.123,2.305)(4.163,2.225)(4.203,2.310)(4.243,2.330)(4.283,2.240)(4.323,2.315)(4.363,2.235)(4.403,2.305)(4.443,2.220)(4.483,2.300)(4.523,2.320)(4.563,2.220)(4.603,2.290)(4.643,2.230)(4.683,2.300)(4.723,2.200)(4.763,2.270)(4.803,2.285)(4.843,2.185)
(2.594,3.10)(2.594,3.05)(2.595,2.946)(2.595,2.846)(2.597,1.49)
(2.668,2.826)(2.662,2.73)(2.671,2.75)(2.67,3.0)(2.675,2.95)
(2.798,3.14)(2.798,3.11)(2.798,3.08)
(2.621,2.347)(2.652,2.335)(2.652,2.31)(2.652,2.286)(2.672,2.0)(2.672,1.95)(2.672,1.90)(2.672,1.87)(2.672,1.84)(2.672,1.81)(2.672,1.78)(2.672,1.75)(2.672,1.72)(2.672,1.69)(2.672,1.66)(2.672,1.63)(2.672,1.60)(2.634,1.706)(2.652,1.357)(2.652,1.33)(2.652,1.30)(2.652,1.262)(2.652,1.20)
(2.858,2.335)(2.858,2.31)(2.858,2.28)(2.858,2.25)(2.858,2.22)(2.858,2.19)(2.858,2.16)(2.858,2.13)(2.858,2.095)(2.855,2.06)(2.855,2.02)(2.855,1.98)(2.855,1.94)(2.855,1.90)
(2.878,1.047)(2.88,1.079)(2.89,1.126)(2.904,1.158)(2.915,1.267)(2.925,1.575)(2.935,1.60)(2.945,1.61)(2.958,1.614)(2.967,1.634)(2.975,1.60)(2.99,1.583)(2.997,1.555)(3.01,1.61)(3.02,1.66)(3.025,1.63)(3.03,1.675)(3.035,1.80)(3.045,1.91)(3.025,2.006)(3.017,2.08)(3.03,2.10)(3.05,2.10)(3.06,2.12)(3.081,2.165)(3.07,2.14)(3.09,2.14)(3.10,2.18)
(3.443,2.169)(3.507,2.152)(3.661,2.122)(3.873,2.11)(3.915,2.145)(4.11,2.11)(4.10,2.13)(4.163,2.105)(4.163,2.0)(4.378,2.096)(4.50,2.13)(4.51,2.14)(4.73,2.088)(4.73,2.115)(4.815,2.036)
(4.85,2.12)(4.865,2.027)(4.876,1.895)(4.886,1.806)(4.909,1.81)(4.889,1.722)(4.902,1.69)(4.916,1.603)(4.932,1.454)(4.94,1.44)(4.95,1.382)(4.962,1.317)(4.982,1.35)(4.996,1.326)(5.01,1.30)(5.022,1.215)(5.036,1.191)(5.042,1.135)(5.062,1.279)(5.069,1.303)(5.08,1.45)(5.09,1.50)(5.10,1.55)(5.11,1.57)(5.13,1.60)(5.143,1.63)(5.16,1.60)(5.17,1.52)(5.18,1.49)(5.19,1.57)(5.20,1.50)(5.22,1.40)(5.24,1.47)(5.26,1.48)(5.28,1.55)(5.29,1.62)(5.30,1.60)(5.325,1.52)(5.345,1.73)(5.36,1.70)(5.37,1.69)(5.39,1.60)(5.41,1.63)(5.43,1.58)(5.45,1.62)(5.473,1.467)(5.48,1.60)(5.50,1.64)(5.51,1.66)(5.52,1.62)(5.525,1.65)
};
\end{axis}
% y ticks with their own lengths
\begin{axis}[
  at={(53.1pt,50.45pt)}, anchor=south west, scale only axis,
  width=791.8pt, height=520.9pt,
  xmin=2.35, xmax=5.53, ymin=1.0, ymax=3.5,
  xtick=\empty,
  ytick={1.0,1.5,2.0,2.5,3.0,3.5},
  minor ytick={1.1,1.2,1.3,1.4,1.6,1.7,1.8,1.9,2.1,2.2,2.3,2.4,2.6,2.7,2.8,2.9,3.1,3.2,3.3,3.4},
  tick pos=both, tick align=inside,
  major tick length=15.5pt, minor tick length=8pt,
  tick style={black, line width=0.7pt},
  axis line style={line width=0.8pt},
  yticklabel style={font=\fontsize{14.5}{17}\selectfont,
    /pgf/number format/fixed, /pgf/number format/fixed zerofill,
    /pgf/number format/precision=1, /pgf/number format/assume math mode=true},
]
\end{axis}
% labels
\node[rotate=90, font=\fontsize{14.5}{17}\selectfont] at (12.7pt,311pt) {Filter optical density};
\node[font=\fontsize{14.5}{17}\selectfont] at (449pt,20.8pt) {Filter center wavelength (microns)};
\node[font=\fontsize{14.5}{17}\selectfont] at (449pt,6.6pt) {Bleu = FM20, Green = FM22, Orange = FM25};
% title
\node[font=\calibri\itshape\fontsize{24}{28}\selectfont] at (449pt,534.3pt) {Example for 3 FMFS};
\node[font=\calibri\itshape\fontsize{24}{28}\selectfont] at (449pt,506pt) {LVF segment};
% formula box
\draw[fill=white, line width=0.8pt] (657pt,524.5pt) rectangle (912pt,594.5pt);
\node[font=\fontsize{24}{28}\selectfont] at (782pt,560pt) {$10^{-OD}=\dfrac{I_{out\_of\_band}}{I_{CWL}}$};
\pgfresetboundingbox
\useasboundingbox (0pt,0pt) rectangle (905.5pt,598.5pt);
\end{tikzpicture}
\end{document}
